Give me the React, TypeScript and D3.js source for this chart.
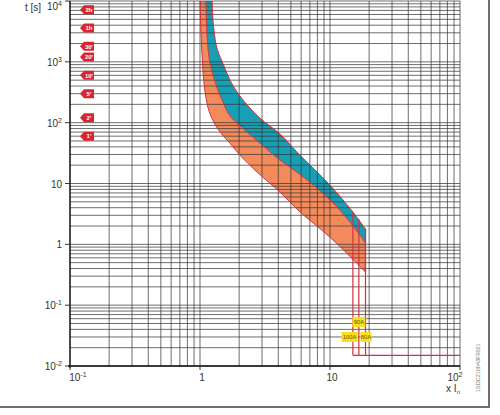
import React from "react";
import * as d3 from "d3";

// ---- data ----
const yTicks = [0.01, 0.1, 1, 10, 100, 1000, 10000];
const yTickLabels = [["10", "-2"], ["10", "-1"], ["1", ""], ["10", ""], ["10", "2"], ["10", "3"], ["10", "4"]];
const xTicks = [0.1, 1, 10, 100];
const xTickLabels = [["10", "-1"], ["1", ""], ["10", ""], ["10", "2"]];

// band boundaries [multiple of In, time s]
const orangeLow: [number, number][] = [
  [1.0, 10000], [1.018, 2978], [1.05, 821], [1.1, 300], [1.18, 150], [1.3, 95], [1.45, 67],
  [1.7, 46], [2.03, 29.3], [2.75, 15.4], [4.13, 7.2], [5.57, 3.8], [10, 1.31], [18.75, 0.35],
];
const boundary: [number, number][] = [
  [1.11, 10000], [1.13, 2978], [1.2, 900], [1.3, 480], [1.46, 250], [1.75, 120],
  [2.3, 70], [2.89, 46], [4.13, 24.2], [5.57, 15.4], [10, 5.34], [18.75, 1.05],
];
const tealUp: [number, number][] = [
  [1.24, 10000], [1.28, 3334], [1.36, 1600], [1.52, 880], [1.8, 400], [2.2, 220], [2.89, 119],
  [4.13, 65], [5.57, 32.8], [10, 9.4], [15, 3.4], [18.75, 1.78],
];

const tripRatings = ["100A", "90A", "80A"];
const tripMultiples = [15, 16.67, 18.75];
const tripStart = [3.4, 2.6, 1.78];
const tripEnd = 0.015;
const labelX = [14.15, 16.67, 18.9];
const labelT = [0.03, 0.053, 0.03];

const tagLabels = ["2h", "1h", "30'", "20'", "10'", "5'", "2'", "1'"];
const tagTimes = [7200, 3600, 1800, 1200, 600, 300, 120, 60];

const x = d3.scaleLog().domain([0.1, 100]).range([70, 460]);
const y = d3.scaleLog().domain([0.01, 10000]).range([366, 1]);

const RED = "#d8303a";
const ORANGE = "#f38b5c";
const TEAL = "#17a0b5";
const FONT = "Liberation Sans, Arial, sans-serif";

function curvePath(pts: [number, number][]) {
  const line = d3
    .line<[number, number]>()
    .x((d) => x(d[0]))
    .y((d) => y(d[1]))
    .curve(d3.curveMonotoneY);
  return line(pts) as string;
}

function bandPath(a: [number, number][], b: [number, number][]) {
  const p1 = curvePath(a);
  const p2 = curvePath([...b].reverse()).replace(/^M/, "L");
  return p1 + p2 + "Z";
}

function interp(pts: [number, number][], xv: number) {
  for (let i = 0; i < pts.length - 1; i++) {
    const [x0, t0] = pts[i];
    const [x1, t1] = pts[i + 1];
    if (xv >= x0 && xv <= x1) {
      const f = (Math.log(xv) - Math.log(x0)) / (Math.log(x1) - Math.log(x0));
      return Math.exp(Math.log(t0) + f * (Math.log(t1) - Math.log(t0)));
    }
  }
  return pts[pts.length - 1][1];
}

export default function App() {
  const hLines: number[] = [];
  for (let k = -2; k <= 3; k++) for (let m = 1; m <= 9; m++) hLines.push(m * Math.pow(10, k));
  hLines.push(10000);
  const vLines: number[] = [];
  for (let k = -1; k <= 1; k++) for (let m = 1; m <= 9; m++) vLines.push(m * Math.pow(10, k));
  vLines.push(100);

  const [x0, x1] = x.range();
  const [y0, y1] = y.range();
  const labelW = [16, 13, 11];

  return (
    <svg
      width={500}
      height={415}
      style={{ position: "absolute", left: 0, top: 0, background: "#fff" }}
      fontFamily={FONT}
    >
      <defs>
        <clipPath id="plot">
          <rect x={x0} y={y1} width={x1 - x0} height={y0 - y1} />
        </clipPath>
      </defs>
      <rect x={0} y={0} width={500} height={415} fill="#fff" />
      {/* bands */}
      <g clipPath="url(#plot)">
        <path d={bandPath(orangeLow, boundary)} fill={ORANGE} stroke="none" />
        <path d={bandPath(boundary, tealUp)} fill={TEAL} stroke="none" />
      </g>
      {/* grid */}
      <g stroke="#333" strokeWidth={0.8} strokeOpacity={0.9}>
        {hLines.map((t, i) => (
          <line key={"h" + i} x1={x0} x2={x1} y1={y(t)} y2={y(t)} />
        ))}
        {vLines.map((v, i) => (
          <line key={"v" + i} x1={x(v)} x2={x(v)} y1={y1} y2={y0} />
        ))}
      </g>
      {/* band outlines */}
      <g clipPath="url(#plot)" fill="none" stroke={RED} strokeWidth={1}>
        <path d={curvePath(orangeLow)} />
        <path d={curvePath(boundary)} />
        <path d={curvePath(tealUp)} />
      </g>
      {/* magnetic trip lines */}
      <g stroke={RED} strokeWidth={1.2} fill="none">
        {tripMultiples.map((m, i) => (
          <line key={"tr" + i} x1={x(m)} x2={x(m)} y1={y(tripStart[i])} y2={y(tripEnd)} />
        ))}
        <line
          x1={x(tripMultiples[2])}
          x2={x(tripMultiples[2])}
          y1={y(interp(tealUp, 18.75))}
          y2={y(interp(orangeLow, 18.75))}
        />
        <line x1={x(tripMultiples[0])} x2={x1} y1={y(tripEnd)} y2={y(tripEnd)} />
      </g>
      {/* rating labels */}
      {tripRatings.map((r, i) => {
        const w = labelW[i];
        const cx = x(labelX[i]);
        const cy = y(labelT[i]);
        return (
          <g key={"lb" + i}>
            <rect x={cx - w / 2} y={cy - 5} width={w} height={10} fill="#f6e11c" />
            <text x={cx} y={cy + 2.1} fontSize={5.8} textAnchor="middle" fill="#6e5010">
              {r}
            </text>
          </g>
        );
      })}
      {/* axes */}
      <line x1={x0} x2={x0} y1={y1} y2={y0 + 2} stroke="#111" strokeWidth={1.3} />
      <line x1={x0 - 2} x2={x1} y1={y0} y2={y0} stroke="#111" strokeWidth={1.3} />
      {yTicks.map((t, i) => (
        <g key={"yt" + i}>
          <line x1={x0 - 5} x2={x0} y1={y(t)} y2={y(t)} stroke="#333" strokeWidth={1} />
          <text x={x0 - 8} y={Math.max(y(t) + 4, 10)} fontSize={10} textAnchor="end" fill="#333">
            {yTickLabels[i][0]}
            {yTickLabels[i][1] && (
              <tspan fontSize={7} dy={-4}>
                {yTickLabels[i][1]}
              </tspan>
            )}
          </text>
        </g>
      ))}
      {xTicks.map((v, i) => (
        <g key={"xt" + i}>
          <line x1={x(v)} x2={x(v)} y1={y0} y2={y0 + 4} stroke="#333" strokeWidth={1} />
          <text
            x={i === 0 ? x(v) + 8 : i === xTicks.length - 1 ? x(v) - 5 : x(v) + 2}
            y={y0 + 15}
            fontSize={10}
            textAnchor="middle"
            fill="#333"
          >
            {xTickLabels[i][0]}
            {xTickLabels[i][1] && (
              <tspan fontSize={7} dy={-4}>
                {xTickLabels[i][1]}
              </tspan>
            )}
          </text>
        </g>
      ))}
      <text x={25} y={11} fontSize={10} fill="#333">
        t [s]
      </text>
      <text x={460} y={392} fontSize={10} textAnchor="end" fill="#333">
        x I
        <tspan fontSize={6} dy={2}>n</tspan>
      </text>
      {/* time tags */}
      {tagLabels.map((lab, i) => {
        const cy = y(tagTimes[i]);
        const xl = 80;
        const pts = `${xl},${cy} ${xl + 4},${cy - 4.5} ${xl + 14},${cy - 4.5} ${xl + 14},${cy + 4.5} ${xl + 4},${cy + 4.5}`;
        return (
          <g key={"tag" + i}>
            <polygon points={pts} fill="#d8262f" />
            <text x={xl + 9} y={cy + 2.2} fontSize={6} fontWeight="bold" textAnchor="middle" fill="#fff">
              {lab}
            </text>
          </g>
        );
      })}
      {/* code text */}
      <text transform="translate(480,392) rotate(-90)" fontSize={5.5} fill="#777">
        1SDC210043F0001
      </text>
      {/* outer frame */}
      <line x1={489} x2={489} y1={0} y2={407} stroke="#6e6e6e" strokeWidth={2} />
      <line x1={0} x2={490} y1={407} y2={407} stroke="#6e6e6e" strokeWidth={2} />
    </svg>
  );
}
